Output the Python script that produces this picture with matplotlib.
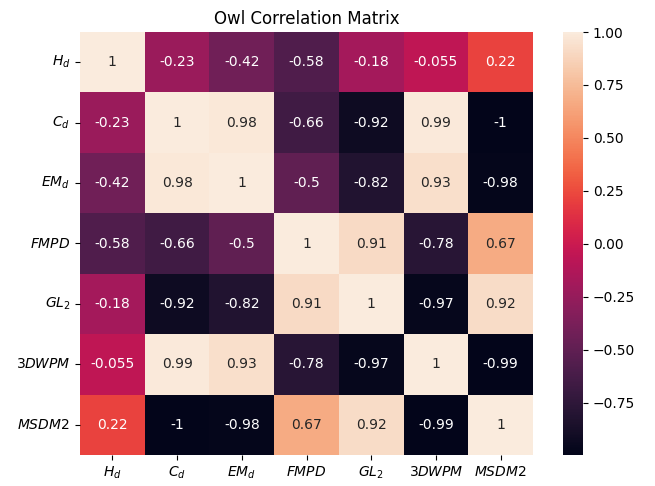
import numpy as np
import pandas as pd
import matplotlib
matplotlib.use("Agg")
import matplotlib.pyplot as plt
import seaborn as sns

labels = [r'$H_d$', r'$C_d$', r'$EM_d$', r'$FMPD$', r'$GL_2$', r'$\mathit{3DWPM}$', r'$MSDM2$']

h_d = [1, -0.23, -0.42, -0.58, -0.18, -0.055, 0.22]
c_d = [-0.23, 1, 0.98, -0.66, -0.92, 0.99, -0.996]
em_d = [-0.42, 0.98, 1, -0.5, -0.82, 0.93, -0.98]
fmpd = [-0.58, -0.66, -0.5, 1, 0.91, -0.78, 0.67]
gl_2 = [-0.18, -0.92, -0.82, 0.91, 1, -0.97, 0.92]
dwpm = [-0.055, 0.99, 0.93, -0.78, -0.97, 1, -0.99]
msdm2 = [0.22, -0.996, -0.98, 0.67, 0.92, -0.99, 1]

corr = pd.DataFrame([h_d, c_d, em_d, fmpd, gl_2, dwpm, msdm2],
                    index=labels, columns=labels)

fig = plt.figure(figsize=(6.55, 4.86), dpi=100)
ax = fig.add_axes([80 / 655, 31 / 486, 453 / 655, 423 / 486])
cax = fig.add_axes([563 / 655, 31 / 486, 20 / 655, 423 / 486])

sns.heatmap(corr, annot=True, ax=ax, cbar_ax=cax)
ax.set_yticklabels(ax.get_yticklabels(), rotation=0)
ax.set_xticklabels(ax.get_xticklabels(), rotation=0)
ax.set_title('Owl Correlation Matrix', fontsize=12)

fig.savefig('out.png', dpi=100)
